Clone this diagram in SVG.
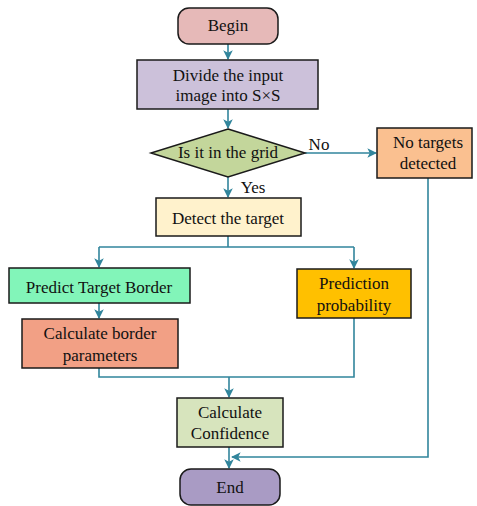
<svg xmlns="http://www.w3.org/2000/svg" width="477" height="506" viewBox="0 0 477 506">
  <defs>
    <marker id="arrow" viewBox="0 0 10 10" refX="9" refY="5" markerWidth="6" markerHeight="6" markerUnits="strokeWidth" orient="auto">
      <path d="M0,0 L10,5 L0,10 L2.5,5 Z" fill="#31859c"/>
    </marker>
  </defs>

  <rect width="477" height="506" fill="#ffffff"/>

  <!-- connectors -->
  <g id="connectors" fill="none" stroke="#31859c" stroke-width="1.6">
    <path d="M228,44 V59" marker-end="url(#arrow)"/>
    <path d="M228,109 V128" marker-end="url(#arrow)"/>
    <path d="M305,153 H376" marker-end="url(#arrow)"/>
    <path d="M228,177 V197" marker-end="url(#arrow)"/>
    <path d="M228,236 V247"/>
    <path d="M99,247 H354"/>
    <path d="M99,247 V267" marker-end="url(#arrow)"/>
    <path d="M354,247 V268" marker-end="url(#arrow)"/>
    <path d="M99,303 V318" marker-end="url(#arrow)"/>
    <path d="M99,368 V377 H354 V318"/>
    <path d="M229,377 V397" marker-end="url(#arrow)"/>
    <path d="M229,447 V468" marker-end="url(#arrow)"/>
    <path d="M428,178 V457 H232" marker-end="url(#arrow)"/>
  </g>

  <!-- nodes: shared outline and serif labels set on the parent group -->
  <g id="nodes" stroke="#1a1a1a" stroke-width="1.5">
    <g id="begin">
      <rect x="178" y="8" width="100" height="36" rx="11" fill="#e6b9b8"/>
      <text x="228" y="31" font-family="Liberation Serif" font-size="17" fill="#111" stroke="none" text-anchor="middle">Begin</text>
    </g>

    <g id="divide">
      <rect x="137" y="60" width="181" height="49" fill="#ccc1da"/>
      <text x="228" y="81" font-family="Liberation Serif" font-size="17" fill="#111" stroke="none" text-anchor="middle">Divide the input</text>
      <text x="228" y="101" font-family="Liberation Serif" font-size="17" fill="#111" stroke="none" text-anchor="middle">image into S×S</text>
    </g>

    <g id="grid-check">
      <polygon points="228,129 305,153 228,177 151,153" fill="#c3d69b"/>
      <text x="228" y="158" font-family="Liberation Serif" font-size="17" fill="#111" stroke="none" text-anchor="middle">Is it in the grid</text>
    </g>

    <g id="no-targets">
      <rect x="377" y="128" width="95" height="50" fill="#fac090"/>
      <text x="428" y="148" font-family="Liberation Serif" font-size="17" fill="#111" stroke="none" text-anchor="middle">No targets</text>
      <text x="428" y="169" font-family="Liberation Serif" font-size="17" fill="#111" stroke="none" text-anchor="middle">detected</text>
    </g>

    <g id="edge-labels">
      <text x="319" y="150" font-family="Liberation Serif" font-size="17" fill="#111" stroke="none" text-anchor="middle">No</text>
      <text x="253" y="193" font-family="Liberation Serif" font-size="17" fill="#111" stroke="none" text-anchor="middle">Yes</text>
    </g>

    <g id="detect">
      <rect x="156" y="198" width="145" height="38" fill="#fff2cc"/>
      <text x="228" y="224" font-family="Liberation Serif" font-size="17" fill="#111" stroke="none" text-anchor="middle">Detect the target</text>
    </g>

    <g id="predict-border">
      <rect x="9" y="268" width="181" height="35" fill="#82f5b9"/>
      <text x="99" y="293" font-family="Liberation Serif" font-size="17" fill="#111" stroke="none" text-anchor="middle">Predict Target Border</text>
    </g>

    <g id="border-params">
      <rect x="22" y="319" width="156" height="49" fill="#f2a085"/>
      <text x="100" y="339" font-family="Liberation Serif" font-size="17" fill="#111" stroke="none" text-anchor="middle">Calculate border</text>
      <text x="100" y="361" font-family="Liberation Serif" font-size="17" fill="#111" stroke="none" text-anchor="middle">parameters</text>
    </g>

    <g id="prediction-probability">
      <rect x="297" y="269" width="114" height="49" fill="#ffc000"/>
      <text x="354" y="289" font-family="Liberation Serif" font-size="17" fill="#111" stroke="none" text-anchor="middle">Prediction</text>
      <text x="354" y="311" font-family="Liberation Serif" font-size="17" fill="#111" stroke="none" text-anchor="middle">probability</text>
    </g>

    <g id="confidence">
      <rect x="177" y="398" width="106" height="49" fill="#d7e4bd"/>
      <text x="230" y="418" font-family="Liberation Serif" font-size="17" fill="#111" stroke="none" text-anchor="middle">Calculate</text>
      <text x="230" y="439" font-family="Liberation Serif" font-size="17" fill="#111" stroke="none" text-anchor="middle">Confidence</text>
    </g>

    <g id="end">
      <rect x="180" y="469" width="100" height="36" rx="11" fill="#a99bc4"/>
      <text x="230" y="493" font-family="Liberation Serif" font-size="17" fill="#111" stroke="none" text-anchor="middle">End</text>
    </g>
  </g>
</svg>
